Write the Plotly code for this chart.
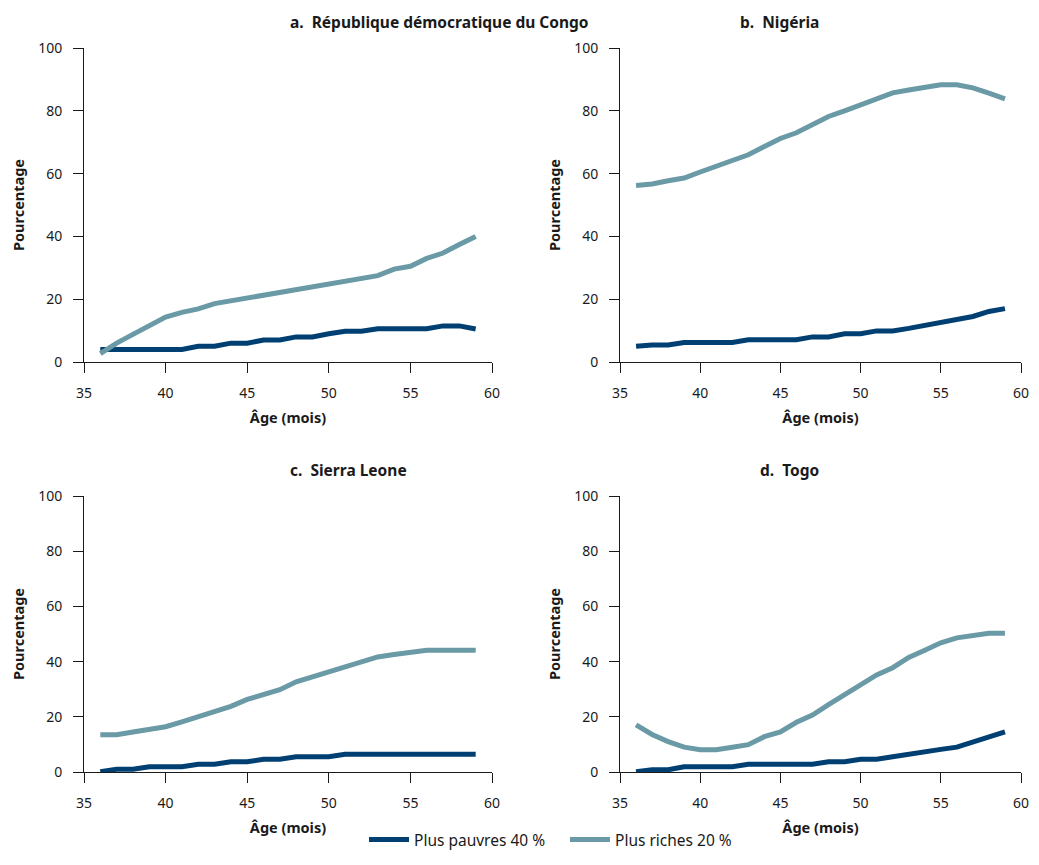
import plotly.graph_objects as go

ages = list(range(36, 60))

titles = ["a.  République démocratique du Congo", "b.  Nigéria", "c.  Sierra Leone", "d.  Togo"]
series_names = ["Plus pauvres 40 %", "Plus riches 20 %"]

rdc_poor = [4, 4, 4, 4, 4, 4, 5, 5, 6, 6, 7, 7, 8, 8, 9, 9.8, 9.8, 10.6, 10.6, 10.6, 10.6, 11.5, 11.5, 10.5]
rdc_rich = [2.7, 6, 8.8, 11.5, 14.3, 15.8, 16.9, 18.6, 19.5, 20.4, 21.3, 22.2, 23.1, 24.0, 24.9, 25.8, 26.6, 27.5, 29.6, 30.5, 33, 34.7, 37.4, 40]

nga_poor = [5, 5.4, 5.4, 6.2, 6.2, 6.2, 6.2, 7.1, 7.1, 7.1, 7.1, 8, 8, 9, 9, 9.9, 9.9, 10.7, 11.6, 12.6, 13.5, 14.5, 16.1, 17]
nga_rich = [56.2, 56.7, 57.7, 58.6, 60.5, 62.4, 64.3, 66, 68.6, 71.2, 73, 75.4, 78.2, 80, 82, 83.9, 85.7, 86.6, 87.4, 88.3, 88.3, 87.3, 85.6, 83.8]

sle_poor = [0.1, 1, 1, 1.9, 1.9, 1.9, 2.8, 2.8, 3.7, 3.7, 4.6, 4.6, 5.5, 5.5, 5.5, 6.4, 6.4, 6.4, 6.4, 6.4, 6.4, 6.4, 6.4, 6.4]
sle_rich = [13.5, 13.5, 14.5, 15.4, 16.4, 18.2, 20.1, 22, 23.8, 26.3, 28, 29.8, 32.7, 34.5, 36.3, 38.1, 39.9, 41.7, 42.6, 43.4, 44.1, 44.1, 44.1, 44.1]

tgo_poor = [0.1, 0.8, 0.8, 1.9, 1.9, 1.9, 1.9, 2.8, 2.8, 2.8, 2.8, 2.8, 3.7, 3.7, 4.6, 4.6, 5.5, 6.5, 7.4, 8.2, 9, 10.9, 12.7, 14.5]
tgo_rich = [17.1, 13.6, 11, 9, 8.1, 8.1, 9, 9.9, 12.8, 14.5, 18, 20.6, 24.4, 27.9, 31.6, 35.2, 37.8, 41.5, 44.1, 46.8, 48.6, 49.5, 50.3, 50.3]

x_ticks = [35, 40, 45, 50, 55, 60]
y_ticks = [0, 20, 40, 60, 80, 100]

poor_color = "#003f72"
rich_color = "#6a9aa6"

panels = [(rdc_poor, rdc_rich), (nga_poor, nga_rich), (sle_poor, sle_rich), (tgo_poor, tgo_rich)]

# the page keeps its default 8px body margin; the figure fills the rest
OFF = 8
W, H = 1039 - 2 * OFF, 865 - 2 * OFF
# pixel boxes in page coords (left, right, top, bottom)
boxes = [(84, 492, 48, 362), (620, 1021, 48, 362), (84, 492, 496, 772), (620, 1021, 496, 772)]

fig = go.Figure()
font = "Noto Sans"
txt = "#1a1a1a"

for i, ((poor, rich), box) in enumerate(zip(panels, boxes)):
    n = "" if i == 0 else str(i + 1)
    fig.add_trace(go.Scatter(x=ages, y=poor, mode="lines", name=series_names[0],
                             line=dict(color=poor_color, width=5), xaxis="x" + n, yaxis="y" + n,
                             showlegend=(i == 0), legendgroup="poor"))
    fig.add_trace(go.Scatter(x=ages, y=rich, mode="lines", name=series_names[1],
                             line=dict(color=rich_color, width=5), xaxis="x" + n, yaxis="y" + n,
                             showlegend=(i == 0), legendgroup="rich"))
    l, r, t, b = [v - OFF for v in box]
    xd = [l / W, min(r / W, 1.0)]
    yd = [1 - b / H, 1 - t / H]
    axis_common = dict(showgrid=False, zeroline=False, showline=True, linecolor=txt, linewidth=1,
                       ticks="outside", ticklen=10, tickwidth=1, tickcolor=txt, automargin=False,
                       ticklabelstandoff=8, ticklabeloverflow="allow",
                       tickfont=dict(family=font, size=14, color=txt))
    fig.update_layout(**{
        "xaxis" + n: dict(domain=xd, range=[35, 60], tickvals=x_ticks, anchor="y" + n,
                          title=dict(text="<b>Âge (mois)</b>", font=dict(family=font, size=14.5, color=txt), standoff=12),
                          **axis_common),
        "yaxis" + n: dict(domain=yd, range=[0, 100], tickvals=y_ticks, anchor="x" + n,
                          title=dict(text="<b>Pourcentage</b>", font=dict(family=font, size=14.5, color=txt), standoff=10),
                          **axis_common),
    })
    fig.add_annotation(text="<b>" + titles[i] + "</b>", x=(l + r) / 2 / W, y=1 - (t - 26) / H,
                       xref="paper", yref="paper", showarrow=False, yanchor="middle",
                       font=dict(family=font, size=15.5, color=txt))

fig.update_layout(
    width=W, height=H,
    margin=dict(l=0, r=0, t=0, b=0),
    paper_bgcolor="white", plot_bgcolor="white",
    font=dict(family=font, size=14, color=txt),
    legend=dict(orientation="h", x=(565 - OFF) / W, xanchor="center", y=0.0, yanchor="bottom",
                font=dict(family=font, size=15.5, color=txt), itemwidth=40, tracegroupgap=0,
                entrywidth=146, entrywidthmode="pixels"),
)

fig.write_html("out.html", config={"displayModeBar": False})
